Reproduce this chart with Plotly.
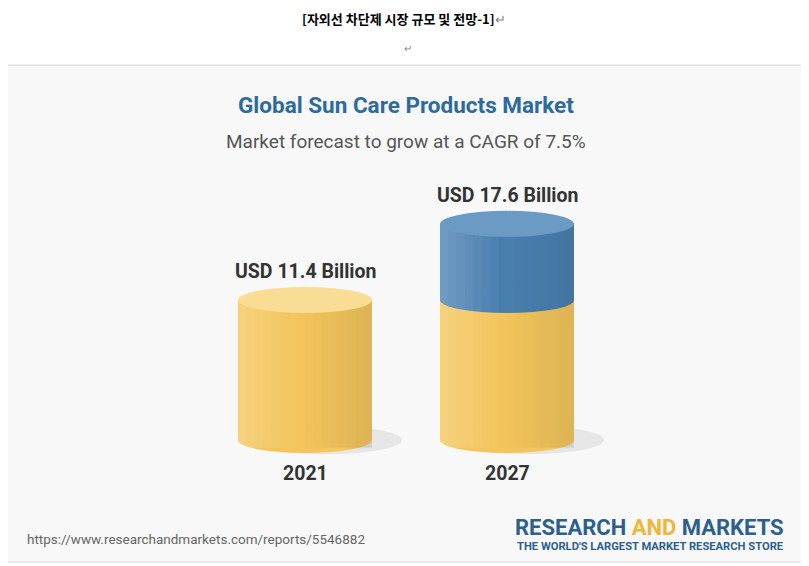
import plotly.graph_objects as go

years = ["2021", "2027"]
values = [11.4, 17.6]
labels = ["USD 11.4 Billion", "USD 17.6 Billion"]
xpos = [305, 507]

OFF = 8  # page body margin
SW, SH = 809, 566
W, H = SW - OFF, SH - OFF
BASE_PX, PX_PER = 440, 12.28
ylo = (BASE_PX - SH) / PX_PER
yhi = (BASE_PX - OFF) / PX_PER
BW = 134
EH = 13 / PX_PER

Y_BODY, Y_TOP = "#f3c55c", "#f9dd94"
B_BODY, B_TOP = "#4a80b0", "#6b9ac4"

fig = go.Figure()
fig.add_bar(x=xpos, y=[values[0], values[0]], width=BW, marker=dict(color=Y_BODY, line_width=0))
fig.add_bar(x=[xpos[1]], y=[values[1] - values[0]], base=[values[0]], width=BW,
            marker=dict(color=B_BODY, line_width=0))

shapes = []
def ell(xc, yc, color, w=BW, h=EH):
    shapes.append(dict(type="circle", xref="x", yref="y", x0=xc - w / 2, x1=xc + w / 2,
                       y0=yc - h, y1=yc + h, fillcolor=color, line_width=0, layer="above"))

shapes.append(dict(type="rect", xref="x", yref="y", x0=5, x1=805,
                   y0=(BASE_PX - 562) / PX_PER, y1=(BASE_PX - 65) / PX_PER, fillcolor="#f8f8f8",
                   line=dict(color="#d8d8d8", width=1), layer="below"))
for xc in xpos:
    shapes.append(dict(type="circle", xref="x", yref="y", x0=xc - BW / 2 + 10, x1=xc + BW / 2 + 30,
                       y0=-EH * 1.1, y1=EH * 1.1, fillcolor="#e6e6e6", line_width=0, layer="below"))
    ell(xc, 0, Y_BODY)
ell(xpos[1], values[0], B_BODY)
# smooth cylinder shading strips
n = 16
for xc, v in zip(xpos, values):
    for i in range(n):
        t = (i + 0.5) / n
        if t < 0.45:
            c, op = "white", 0.22 * (0.45 - t) / 0.45
        else:
            c, op = "black", 0.09 * (t - 0.45) / 0.55
        shapes.append(dict(type="rect", xref="x", yref="y", x0=xc - BW / 2 + i * BW / n,
                           x1=xc - BW / 2 + (i + 1) * BW / n, y0=-EH * 0.6, y1=v,
                           fillcolor=c, opacity=op, line_width=0, layer="above"))
ell(xpos[0], values[0], Y_TOP)
ell(xpos[1], values[1], B_TOP)

ann = []
for xc, v, lab, yr in zip(xpos, values, labels, years):
    ann.append(dict(x=xc, y=v + EH + 1.25, xref="x", yref="y", text=f"<b>{lab}</b>", showarrow=False,
                    font=dict(size=19.5, color="#333", family="Roboto")))
    ann.append(dict(x=xc, y=-EH - 1.65, xref="x", yref="y", text=f"<b>{yr}</b>", showarrow=False,
                    font=dict(size=19.5, color="#333", family="Roboto")))

def pa(x, y, text, size, color, xanchor="center", family="Noto Sans CJK KR"):
    ann.append(dict(x=x, y=(BASE_PX - y) / PX_PER, xref="x", yref="y", text=text, showarrow=False,
                    xanchor=xanchor, yanchor="middle", font=dict(size=size, color=color, family=family)))

pa(404, 18, "<b>[자외선 차단제 시장 규모 및 전망-1]</b><span style='color:#888'>↵</span>", 13, "#000")
pa(408, 47, "↵", 10, "#888")
pa(406, 105, "<b>Global Sun Care Products Market</b>", 22.5, "#2c6aa0", family="Roboto")
pa(406, 141, "Market forecast to grow at a CAGR of 7.5%", 19, "#555", family="Roboto")
pa(25, 539, "https://www.researchandmarkets.com/reports/5546882", 13.5, "#666", "left", "Roboto")
pa(786, 527, "<b>RESEARCH <span style='color:#f0b63a'>AND</span> MARKETS</b>", 22, "#2b5f90", "right", "Roboto")
pa(786, 546, "<b>THE WORLD'S LARGEST MARKET RESEARCH STORE</b>", 11.2, "#2b5f90", "right", "Roboto")

fig.update_layout(width=W, height=H, margin=dict(l=0, r=0, t=0, b=0), paper_bgcolor="white",
                  plot_bgcolor="rgba(0,0,0,0)", showlegend=False, barmode="overlay",
                  xaxis=dict(range=[OFF, SW], visible=False, fixedrange=True),
                  yaxis=dict(range=[ylo, yhi], visible=False, fixedrange=True),
                  shapes=shapes, annotations=ann)
fig.write_html("out.html", config={"displayModeBar": False})
